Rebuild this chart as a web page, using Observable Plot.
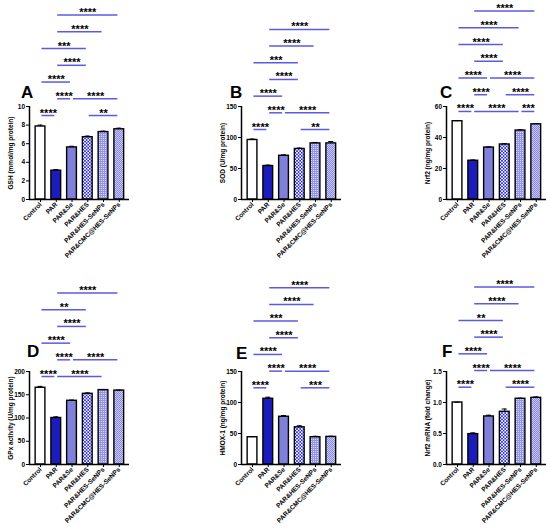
<!DOCTYPE html>
<html><head><meta charset="utf-8">
<script src="https://cdn.jsdelivr.net/npm/d3@7"></script>
<script src="https://cdn.jsdelivr.net/npm/@observablehq/plot@0.6"></script>
<style>
body{margin:0;background:#fff;}
#fig{position:relative;width:550px;height:529px;overflow:hidden;font-family:"Liberation Sans",Arial,sans-serif;background:#fff;}
.panel{position:absolute;}
.letter{position:absolute;font-weight:bold;font-size:17px;line-height:1;font-family:"Liberation Sans",Arial,sans-serif;color:#000;}
</style></head><body>
<svg width="0" height="0" style="position:absolute">
<defs>
<pattern id="pHes" width="3.2" height="3.2" patternUnits="userSpaceOnUse">
<rect width="3.2" height="3.2" fill="#ffffff"/>
<rect width="1.6" height="1.6" fill="#2626d6"/>
<rect x="1.6" y="1.6" width="1.6" height="1.6" fill="#2626d6"/>
</pattern>
<pattern id="pHesSe" width="2" height="2" patternUnits="userSpaceOnUse">
<rect width="2" height="2" fill="#9494e6"/>
<rect width="1" height="1" fill="#d8d8f8"/>
</pattern>
<pattern id="pCmc" width="2" height="2" patternUnits="userSpaceOnUse">
<rect width="2" height="2" fill="#c4c4f2"/>
<rect width="1" height="1" fill="#8c8ce0"/>
<rect x="1" y="1" width="1" height="1" fill="#8c8ce0"/>
</pattern>
</defs></svg>
<div id="fig"></div>
<script>
// ---------- data ----------
const groups = ["Control","PAR","PAR&Se","PAR&HES","PAR&HES-SeNPs","PAR&CMC@HES-SeNPs"];

const gshMean  = [7.85, 3.1, 5.6, 6.7, 7.25, 7.55];
const gshErr   = [0.15, 0.12, 0.12, 0.12, 0.1, 0.12];
const gshTicks = [0, 2, 4, 6, 8, 10];

const sodMean  = [96, 54, 70.5, 81.5, 90.5, 90.5];
const sodErr   = [1.5, 1.5, 1.5, 1.5, 1.5, 3];
const sodTicks = [0, 50, 100, 150];

const nrf2Mean  = [50.5, 25, 33.5, 35.5, 44.5, 48.5];
const nrf2Err   = [0.4, 0.5, 0.5, 0.5, 0.5, 0.5];
const nrf2Ticks = [0, 20, 40, 60];

const gpxMean  = [165, 100, 137, 152, 160, 159];
const gpxErr   = [3, 2.5, 1.5, 2, 1, 1];
const gpxTicks = [0, 50, 100, 150, 200];

const hmoxMean  = [44, 106, 77, 60, 44, 44.5];
const hmoxErr   = [1, 2.5, 2, 2.5, 1.5, 1];
const hmoxTicks = [0, 50, 100, 150];

const mrnaMean  = [1.0, 0.49, 0.775, 0.85, 1.06, 1.075];
const mrnaErr   = [0.005, 0.02, 0.02, 0.045, 0.01, 0.015];
const mrnaTicks = [0, 0.5, 1.0, 1.5];

// significance brackets: [level, fromGroup, toGroup, label]
const bracketsAB = [
  [0,0,1,"****"],[0,3,5,"**"],
  [1,1,2,"****"],[1,2,5,"****"],
  [2,0,2,"****"],[3,1,3,"****"],[4,0,3,"***"],[5,1,4,"****"],[6,1,5,"****"]
];
const bracketsC = [
  [0,0,1,"****"],[0,1,4,"****"],[0,4,5,"***"],
  [1,1,2,"****"],[1,3,5,"****"],
  [2,0,2,"****"],[2,2,5,"****"],
  [3,1,3,"****"],[4,0,3,"****"],[5,0,4,"****"],[6,1,5,"****"]
];
const bracketsD = [
  [0,0,1,"****"],[0,1,4,"****"],
  [1,1,2,"****"],[1,2,5,"****"],
  [2,0,2,"****"],[3,1,3,"****"],[4,0,3,"**"],[5,1,5,"****"]
];
const bracketsE = [
  [0,0,1,"****"],[0,3,5,"***"],
  [1,1,2,"****"],[1,2,5,"****"],
  [2,0,2,"****"],[3,1,3,"****"],[4,0,3,"***"],[5,1,4,"****"],[6,1,5,"****"]
];
const bracketsF = [
  [0,0,1,"****"],[0,3,5,"****"],
  [1,1,2,"****"],[1,2,5,"****"],
  [2,0,2,"****"],[3,1,3,"****"],[4,0,3,"**"],[5,1,4,"****"],[6,1,5,"****"]
];

// ---------- styles / layout ----------
const fills = ["#ffffff", "#1c1cba", "#8080da", "url(#pHes)", "url(#pHesSe)", "url(#pCmc)"];
const bracketColor = "#5a5ae2";

const panels = [
  {letter:"A", mean:gshMean,  err:gshErr,  ticks:gshTicks,  label:"GSH (mmol/mg protein)",       brackets:bracketsAB, base:9.03,  step:1.8,   axisX:29,  top:0,   lx:21,  ly:84},
  {letter:"B", mean:sodMean,  err:sodErr,  ticks:sodTicks,  label:"SOD (U/mg protein)",          brackets:bracketsAB, base:112.9, step:26.9,  axisX:241, top:0,   lx:230, ly:84},
  {letter:"C", mean:nrf2Mean, err:nrf2Err, ticks:nrf2Ticks, label:"Nrf2 (ng/mg protein)",        brackets:bracketsC,  base:56.8,  step:10.8,  axisX:446, top:0,   lx:440, ly:84},
  {letter:"D", mean:gpxMean,  err:gpxErr,  ticks:gpxTicks,  label:"GPx activity (U/mg protein)", brackets:bracketsD,  base:189.2, step:35.9,  axisX:29,  top:265, lx:27,  ly:343},
  {letter:"E", mean:hmoxMean, err:hmoxErr, ticks:hmoxTicks, label:"HMOX-1 (ng/mg protein)",      brackets:bracketsE,  base:123.7, step:26.9,  axisX:241, top:265, lx:236, ly:345},
  {letter:"F", mean:mrnaMean, err:mrnaErr, ticks:mrnaTicks, label:"Nrf2 mRNA (fold change)",     brackets:bracketsF,  base:1.247, step:0.269, axisX:446, top:265, lx:442, ly:343, fmt:d3.format(".1f")}
];

const ML = 28, PW = 100, MR = 12, H = 265, MT = 106, MB = 66;
const XMIN = -0.7, XMAX = 5.65;

function makePanel(p) {
  const ymax = p.ticks[p.ticks.length - 1];
  const data = groups.map((g, i) => ({i, g, v: p.mean[i], e: p.err[i]}));
  const br = p.brackets.map(([level, a, b, label]) => ({
    x1: a + 0.09, x2: b - 0.09, mid: (a + b) / 2, y: p.base + level * p.step, label
  }));
  return Plot.plot({
    width: ML + PW + MR, height: H,
    marginLeft: ML, marginRight: MR, marginTop: MT, marginBottom: MB,
    x: {domain: [XMIN, XMAX]},
    y: {domain: [0, ymax]},
    style: {fontFamily: "'Liberation Sans', Arial, sans-serif", fontSize: "6.5px", fontWeight: "bold", color: "#000", background: "transparent", overflow: "visible"},
    marks: [
      Plot.rect(data, {x1: d => d.i - 0.31, x2: d => d.i + 0.31, y1: 0, y2: "v", fill: d => fills[d.i], stroke: "#000", strokeWidth: 1.4}),
      Plot.ruleX(data, {x: "i", y1: "v", y2: d => d.v + d.e, stroke: "#000", strokeWidth: 1}),
      Plot.ruleY(data, {x1: d => d.i - 0.16, x2: d => d.i + 0.16, y: d => d.v + d.e, stroke: "#000", strokeWidth: 1}),
      Plot.ruleY([0], {x1: XMIN, x2: XMAX, stroke: "#000", strokeWidth: 1.5}),
      Plot.ruleX([XMIN], {y1: 0, y2: ymax, stroke: "#000", strokeWidth: 1.5}),
      Plot.axisY({ticks: p.ticks, tickFormat: p.fmt, tickSize: 3, tickPadding: 1.5, label: p.label, labelArrow: "none", labelAnchor: "center", labelOffset: 21, anchor: "left"}),
      Plot.axisX({ticks: d3.range(6), tickFormat: i => groups[i], tickRotate: -45, tickSize: 3, tickPadding: 1, label: null}),
      Plot.ruleY(br, {x1: "x1", x2: "x2", y: "y", stroke: bracketColor, strokeWidth: 1.5}),
      Plot.text(br, {x: "mid", y: "y", text: "label", dy: -2.5, fontSize: 11, fontWeight: "bold"})
    ]
  });
}

const fig = document.getElementById("fig");
for (const p of panels) {
  const svg = makePanel(p);
  svg.classList.add("panel");
  svg.style.left = (p.axisX - ML) + "px";
  svg.style.top = p.top + "px";
  fig.appendChild(svg);
  const L = document.createElement("div");
  L.className = "letter";
  L.textContent = p.letter;
  L.style.left = p.lx + "px";
  L.style.top = p.ly + "px";
  fig.appendChild(L);
}
</script>
</body></html>
